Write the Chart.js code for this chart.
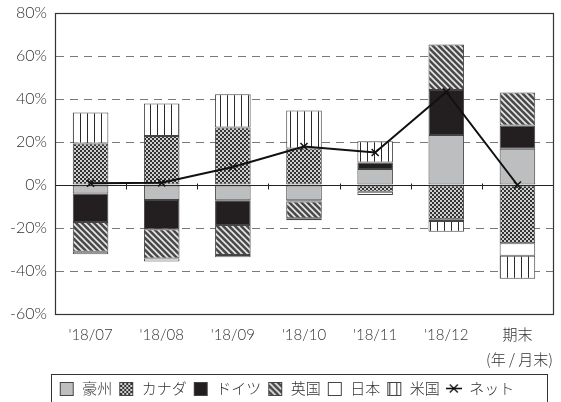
<!DOCTYPE html>
<html>
<head>
<meta charset="utf-8">
<script src="https://cdn.jsdelivr.net/npm/chart.js@4/dist/chart.umd.min.js"></script>
<style>
html,body{margin:0;padding:0;background:#fff;}
#wrap{width:561px;height:402px;position:relative;}
</style>
</head>
<body>
<div id="wrap"><canvas id="c"></canvas></div>
<script>
// ---- data (%) ----
const categories = ["'18/07", "'18/08", "'18/09", "'18/10", "'18/11", "'18/12", "期末"];
const seriesNames = ["豪州", "カナダ", "ドイツ", "英国", "日本", "米国", "ネット"];
const australia = [-4.0, -7.0, -7.1, -7.1, 7.4, 23.3, 16.9];
const canada    = [19.3, 22.8, 26.7, 17.0, -3.1, -15.9, -27.1];
const germany   = [-13.2, -13.6, -11.5, -0.6, 3.1, 20.9, 10.8];
const uk        = [-13.8, -13.6, -14.0, -7.8, 0, 21.1, 15.3];
const japan     = [-1.2, -1.4, -1.0, -0.9, -1.5, -0.8, -5.8];
const us        = [14.4, 15.1, 15.5, 17.7, 9.8, -5.1, -10.7];
const net       = [0.8, 1.0, 8.4, 17.9, 15.1, 43.3, 0.0];
const yTicks = [-60, -40, -20, 0, 20, 40, 60, 80];
const xUnitLabel = "(年 / 月末)";

const FONT = 'Lato, "Noto Sans CJK JP", "Noto Sans", sans-serif';
const CJK = '"Noto Sans CJK JP", "Noto Sans", sans-serif';
const W = '300';
const TXT = '#333';
const EDGE = '#444';

// ---- patterns ----
function tile(w, h, draw) {
  const c = document.createElement('canvas');
  c.width = w; c.height = h;
  draw(c.getContext('2d'), w, h);
  return c;
}
const checkerTile = tile(4, 4, (g) => {
  g.fillStyle = '#333333'; g.fillRect(0, 0, 4, 4);
  g.fillStyle = '#cfcfcf'; g.fillRect(0, 0, 2, 2); g.fillRect(2, 2, 2, 2);
});
const diagTile = tile(6, 6, (g, s) => {
  g.fillStyle = '#4a4a4a'; g.fillRect(0, 0, s, s);
  g.strokeStyle = '#e8e8e8'; g.lineWidth = 1.6;
  g.beginPath();
  g.moveTo(-1, -1); g.lineTo(s + 1, s + 1);
  g.moveTo(-1, s - 1); g.lineTo(1, s + 1);
  g.moveTo(s - 1, -1); g.lineTo(s + 1, 1);
  g.stroke();
});
const vertTile = tile(7, 2, (g) => {
  g.fillStyle = '#ffffff'; g.fillRect(0, 0, 7, 2);
  g.fillStyle = '#2a2a2a'; g.fillRect(3, 0, 1, 2);
});
const pctx = document.createElement('canvas').getContext('2d');
const pat = (t) => pctx.createPattern(t, 'repeat');

const fills = ['#bcbec0', pat(checkerTile), '#231f20', pat(diagTile), '#ffffff', pat(vertTile)];
const fillTiles = [null, checkerTile, null, diagTile, null, vertTile];
const barData = [australia, canada, germany, uk, japan, us];

// legend symbols
function legendBox(i) {
  return tile(16, 15, (g) => {
    if (fillTiles[i]) g.fillStyle = g.createPattern(fillTiles[i], 'repeat');
    else g.fillStyle = fills[i];
    g.fillRect(1.5, 1.5, 13, 13);
    g.strokeStyle = EDGE; g.lineWidth = 1;
    g.strokeRect(1.5, 1.5, 13, 13);
  });
}
const netSymbol = tile(16, 15, (g) => {
  g.strokeStyle = '#111'; g.lineWidth = 1.6;
  g.beginPath(); g.moveTo(0, 7.5); g.lineTo(16, 7.5); g.stroke();
  g.lineWidth = 1.3;
  g.beginPath();
  g.moveTo(4, 3.5); g.lineTo(12, 11.5);
  g.moveTo(12, 3.5); g.lineTo(4, 11.5);
  g.stroke();
});

const datasets = barData.map((d, i) => ({
  type: 'bar',
  label: seriesNames[i],
  data: d,
  backgroundColor: fills[i],
  borderColor: EDGE,
  borderWidth: 1,
  borderSkipped: false,
  stack: 'pos',
  barPercentage: 0.5,
  categoryPercentage: 1.0,
  order: 2
}));
datasets.push({
  type: 'line',
  label: seriesNames[6],
  data: net,
  borderColor: '#111',
  borderWidth: 2,
  pointStyle: 'crossRot',
  pointRadius: 5,
  pointBorderColor: '#111',
  pointBorderWidth: 1.5,
  pointBackgroundColor: '#fff',
  stack: 'net',
  tension: 0,
  order: 0
});

const decoPlugin = {
  id: 'deco',
  beforeDatasetsDraw(chart) {
    const a = chart.chartArea, g = chart.ctx;
    const xs = chart.scales.x, ys = chart.scales.y;
    const y0 = Math.round(ys.getPixelForValue(0)) + 0.5;
    g.save();
    g.strokeStyle = '#222'; g.lineWidth = 1;
    g.beginPath();
    g.moveTo(a.left, y0); g.lineTo(a.right, y0);
    for (let i = 0; i < categories.length - 1; i++) {
      const bx = Math.round((xs.getPixelForValue(i) + xs.getPixelForValue(i + 1)) / 2) + 0.5;
      g.moveTo(bx, y0 - 2); g.lineTo(bx, y0 + 4);
    }
    g.stroke();
    g.restore();
  },
  afterDraw(chart) {
    const a = chart.chartArea, g = chart.ctx;
    g.save();
    g.strokeStyle = '#333'; g.lineWidth = 1.2;
    g.strokeRect(Math.round(a.left) + 0.5, Math.round(a.top) + 0.5,
                 Math.round(a.right - a.left), Math.round(a.bottom - a.top));
    const lg = chart.legend;
    if (lg && lg.legendHitBoxes && lg.legendHitBoxes.length) {
      const hb = lg.legendHitBoxes[0];
      const top = Math.round(hb.top - 7);
      const h = Math.round(hb.height + 14);
      g.lineWidth = 1;
      g.strokeRect(Math.round(a.left) - 3.5, top + 0.5,
                   Math.round(a.right - a.left) - 2, h);
    }
    g.restore();
  }
};

new Chart(document.getElementById('c'), {
  data: { labels: categories, datasets },
  plugins: [decoPlugin],
  options: {
    responsive: true,
    maintainAspectRatio: false,
    animation: false,
    devicePixelRatio: 1,
    layout: { padding: { top: 13, right: -12, left: 0, bottom: -4 } },
    plugins: {
      tooltip: { enabled: false },
      legend: {
        position: 'bottom',
        labels: {
          usePointStyle: true,
          pointStyleWidth: 16,
          boxHeight: 15,
          padding: 6,
          color: TXT,
          font: { family: CJK, size: 15, weight: W },
          generateLabels: (chart) => chart.data.datasets.map((ds, i) => ({
            text: ds.label,
            pointStyle: i < 6 ? legendBox(i) : netSymbol,
            fillStyle: 'transparent',
            strokeStyle: 'transparent',
            lineWidth: 0,
            fontColor: TXT,
            hidden: false,
            datasetIndex: i
          }))
        }
      }
    },
    scales: {
      x: {
        type: 'category',
        stacked: true,
        afterFit: (s) => { s.height = 61; },
        grid: { display: false, drawTicks: false },
        border: { display: false },
        ticks: { color: TXT, font: { family: FONT, size: 15, weight: W, lineHeight: 1 }, padding: 14, maxRotation: 0, autoSkip: false },
        title: {
          display: true, text: xUnitLabel, align: 'end', color: TXT,
          font: { family: CJK, size: 15, weight: W, lineHeight: 1 }, padding: { top: 8, bottom: 8 }
        }
      },
      y: {
        stacked: true,
        min: -60, max: 80,
        afterBuildTicks: (s) => { s.ticks = yTicks.map(v => ({ value: v })); },
        afterFit: (s) => { s.width = 55; },
        grid: { color: '#7a7a7a', lineWidth: 1, drawTicks: false },
        border: { display: true, color: '#333', dash: [8, 6] },
        ticks: {
          color: TXT, font: { family: FONT, size: 16, weight: W, lineHeight: 0.6 }, padding: 8,
          callback: (v) => v + '%'
        }
      },
      yRightGap: {
        type: 'linear',
        position: 'right',
        display: true,
        afterFit: (s) => { s.width = 20; },
        grid: { display: false, drawTicks: false },
        border: { display: false },
        ticks: { display: false }
      }
    }
  }
});
</script>
</body>
</html>
